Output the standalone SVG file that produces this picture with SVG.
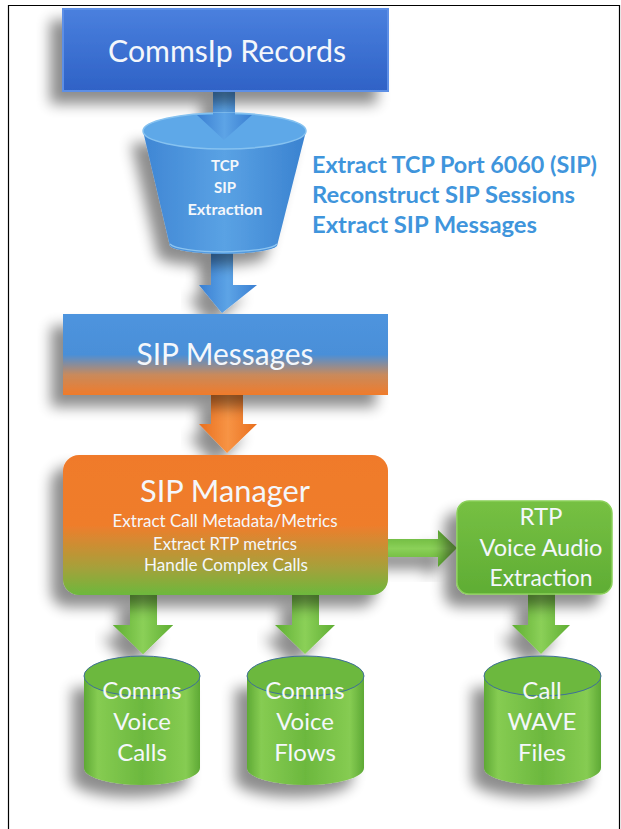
<svg xmlns="http://www.w3.org/2000/svg" width="621" height="829" viewBox="0 0 621 829">
<style>
.t{font-family:Lato,"Open Sans","Liberation Sans",sans-serif;fill:#f4f7fb;text-anchor:middle}
.side{font-family:Lato,"Open Sans","Liberation Sans",sans-serif;font-weight:bold;fill:#3f95dc;font-size:23px}
</style>
<defs>
<filter id="sh" x="-30%" y="-30%" width="160%" height="170%">
<feGaussianBlur in="SourceAlpha" stdDeviation="7"/>
<feOffset dx="-12" dy="12" result="b"/>
<feComponentTransfer><feFuncA type="linear" slope="0.45"/></feComponentTransfer>
<feMerge><feMergeNode/><feMergeNode in="SourceGraphic"/></feMerge>
</filter>
<linearGradient id="gTop" x1="0" y1="0" x2="0" y2="1"><stop offset="0" stop-color="#4a80de"/><stop offset="1" stop-color="#2f62c6"/></linearGradient>
<linearGradient id="gFun" x1="0" y1="0" x2="1" y2="0"><stop offset="0" stop-color="#3f86d4"/><stop offset="0.5" stop-color="#5aa2e4"/><stop offset="1" stop-color="#3a82d0"/></linearGradient>
<linearGradient id="gSip" x1="0" y1="0" x2="0" y2="1"><stop offset="0" stop-color="#4e94de"/><stop offset="0.5" stop-color="#4a8fd8"/><stop offset="0.75" stop-color="#c98a5c"/><stop offset="1" stop-color="#f07b2a"/></linearGradient>
<linearGradient id="gMgr" x1="0" y1="0" x2="0" y2="1"><stop offset="0" stop-color="#f07a2a"/><stop offset="0.5" stop-color="#ef7d2c"/><stop offset="0.8" stop-color="#a7a03a"/><stop offset="1" stop-color="#6cb83c"/></linearGradient>
<linearGradient id="gGreen" x1="0" y1="0" x2="0" y2="1"><stop offset="0" stop-color="#76c043"/><stop offset="1" stop-color="#5fad34"/></linearGradient>
<linearGradient id="gCyl" x1="0" y1="0" x2="1" y2="0"><stop offset="0" stop-color="#5ea935"/><stop offset="0.12" stop-color="#86cc52"/><stop offset="0.5" stop-color="#6cb83e"/><stop offset="0.88" stop-color="#86cc52"/><stop offset="1" stop-color="#5ea935"/></linearGradient>
<linearGradient id="gBlueArr" x1="0" y1="0" x2="1" y2="0"><stop offset="0" stop-color="#3a7fd2"/><stop offset="0.5" stop-color="#5da4e6"/><stop offset="1" stop-color="#3a7fd2"/></linearGradient>
<linearGradient id="gOrArr" x1="0" y1="0" x2="1" y2="0"><stop offset="0" stop-color="#e96f1e"/><stop offset="0.5" stop-color="#f79445"/><stop offset="1" stop-color="#e96f1e"/></linearGradient>
<linearGradient id="gGrArr" x1="0" y1="0" x2="1" y2="0"><stop offset="0" stop-color="#5fae33"/><stop offset="0.5" stop-color="#8bd058"/><stop offset="1" stop-color="#5fae33"/></linearGradient>
<linearGradient id="gGrArrH" x1="0" y1="0" x2="0" y2="1"><stop offset="0" stop-color="#5fae33"/><stop offset="0.5" stop-color="#8bd058"/><stop offset="1" stop-color="#5fae33"/></linearGradient>
</defs>
<rect x="0" y="0" width="621" height="829" fill="#ffffff"/>
<path d="M8.5 835 V5.5 H619.5 V835" fill="none" stroke="#000" stroke-width="1.2"/>

<g id="connectors">
<path d="M213 90 H235 V115 H252 L224 140 L197 115 H213 Z" fill="url(#gBlueArr)" filter="url(#sh)"/>
<path d="M211 250 H233 V285 H257 L222 313 L199 285 H211 Z" fill="url(#gBlueArr)" filter="url(#sh)"/>
<path d="M211 394 H243 V424 H257 L227 453 L199 424 H211 Z" fill="url(#gOrArr)" filter="url(#sh)"/>
<path d="M387 539 H438 V530 L457 548 L438 567 V557 H387 Z" fill="url(#gGrArrH)" filter="url(#sh)"/>
<path d="M130 595 H157 V625 H173 L143 654 L113 625 H130 Z" fill="url(#gGrArr)" filter="url(#sh)"/>
<path d="M292 595 H319 V625 H335 L305 654 L275 625 H292 Z" fill="url(#gGrArr)" filter="url(#sh)"/>
<path d="M528 594 H555 V625 H570 L541 654 L512 625 H528 Z" fill="url(#gGrArr)" filter="url(#sh)"/>
</g>

<g id="commsip-records">
<rect x="63" y="9" width="325" height="82" fill="url(#gTop)" stroke="#5d8fe6" stroke-width="2" filter="url(#sh)"/>
<text class="t" x="227" y="62" font-size="30" textLength="238" lengthAdjust="spacingAndGlyphs">CommsIp Records</text>
</g>

<g id="tcp-sip-extraction">
<path d="M143 131 L170 246 A54 9 0 0 0 277 246 L306 131 Z" fill="url(#gFun)" filter="url(#sh)"/>
<ellipse cx="224.5" cy="131" rx="81.5" ry="18" fill="#5ea8e8" stroke="#86c2f0" stroke-width="1.5"/>
<path d="M213 113 H235 V115 H252 L224 140 L197 115 H213 Z" fill="url(#gBlueArr)"/>
<path d="M170 244 A54 9 0 0 0 277 244" fill="none" stroke="#8cc4f0" stroke-width="1.2"/>
<text class="t" x="225" y="171" font-size="15" font-weight="bold">TCP</text>
<text class="t" x="225" y="193" font-size="15" font-weight="bold">SIP</text>
<text class="t" x="225" y="215" font-size="15" font-weight="bold" textLength="75" lengthAdjust="spacingAndGlyphs">Extraction</text>
</g>

<g id="annotation">
<text class="side" x="312" y="173" textLength="285" lengthAdjust="spacingAndGlyphs">Extract TCP Port 6060 (SIP)</text>
<text class="side" x="312" y="203" textLength="263" lengthAdjust="spacingAndGlyphs">Reconstruct SIP Sessions</text>
<text class="side" x="312" y="233" textLength="225" lengthAdjust="spacingAndGlyphs">Extract SIP Messages</text>
</g>

<g id="sip-messages">
<rect x="63" y="314" width="325" height="81" fill="url(#gSip)" filter="url(#sh)"/>
<text class="t" x="225" y="365" font-size="30" textLength="177" lengthAdjust="spacingAndGlyphs">SIP Messages</text>
</g>

<g id="sip-manager">
<rect x="63" y="455" width="325" height="140" rx="16" fill="url(#gMgr)" filter="url(#sh)"/>
<text class="t" x="225" y="502" font-size="30" textLength="170" lengthAdjust="spacingAndGlyphs">SIP Manager</text>
<text class="t" x="225" y="527" font-size="17" textLength="225" lengthAdjust="spacingAndGlyphs">Extract Call Metadata/Metrics</text>
<text class="t" x="225" y="550" font-size="17" textLength="144" lengthAdjust="spacingAndGlyphs">Extract RTP metrics</text>
<text class="t" x="226" y="571" font-size="17" textLength="164" lengthAdjust="spacingAndGlyphs">Handle Complex Calls</text>
</g>

<g id="rtp-extraction">
<rect x="457" y="501" width="155" height="93" rx="12" fill="url(#gGreen)" stroke="#8bd05a" stroke-width="1.5" filter="url(#sh)"/>
<text class="t" x="541" y="525" font-size="24">RTP</text>
<text class="t" x="541" y="556" font-size="24" textLength="123" lengthAdjust="spacingAndGlyphs">Voice Audio</text>
<text class="t" x="541" y="586" font-size="24" textLength="103" lengthAdjust="spacingAndGlyphs">Extraction</text>
</g>

<g id="comms-voice-calls">
<path d="M84 676 V768 A58 17 0 0 0 200 768 V676 Z" fill="url(#gCyl)" filter="url(#sh)"/>
<ellipse cx="142" cy="676" rx="58" ry="20" fill="#6cb83e" stroke="#3f6f9a" stroke-width="1"/>
<path d="M130 640 H157 V625 H173 L143 654 L113 625 H130 Z" fill="url(#gGrArr)"/>
<text class="t" x="142" y="699" font-size="24">Comms</text>
<text class="t" x="142" y="730" font-size="24">Voice</text>
<text class="t" x="142" y="761" font-size="24">Calls</text>
</g>

<g id="comms-voice-flows">
<path d="M247 676 V768 A58.5 17 0 0 0 364 768 V676 Z" fill="url(#gCyl)" filter="url(#sh)"/>
<ellipse cx="305.5" cy="676" rx="58.5" ry="20" fill="#6cb83e" stroke="#3f6f9a" stroke-width="1"/>
<text class="t" x="305" y="699" font-size="24">Comms</text>
<text class="t" x="305" y="730" font-size="24">Voice</text>
<text class="t" x="305" y="761" font-size="24">Flows</text>
</g>

<g id="call-wave-files">
<path d="M484 676 V768 A58.5 17 0 0 0 601 768 V676 Z" fill="url(#gCyl)" filter="url(#sh)"/>
<ellipse cx="542.5" cy="676" rx="58.5" ry="20" fill="#6cb83e" stroke="#3f6f9a" stroke-width="1"/>
<text class="t" x="542" y="699" font-size="24">Call</text>
<text class="t" x="542" y="730" font-size="24">WAVE</text>
<text class="t" x="542" y="761" font-size="24">Files</text>
</g>
</svg>
